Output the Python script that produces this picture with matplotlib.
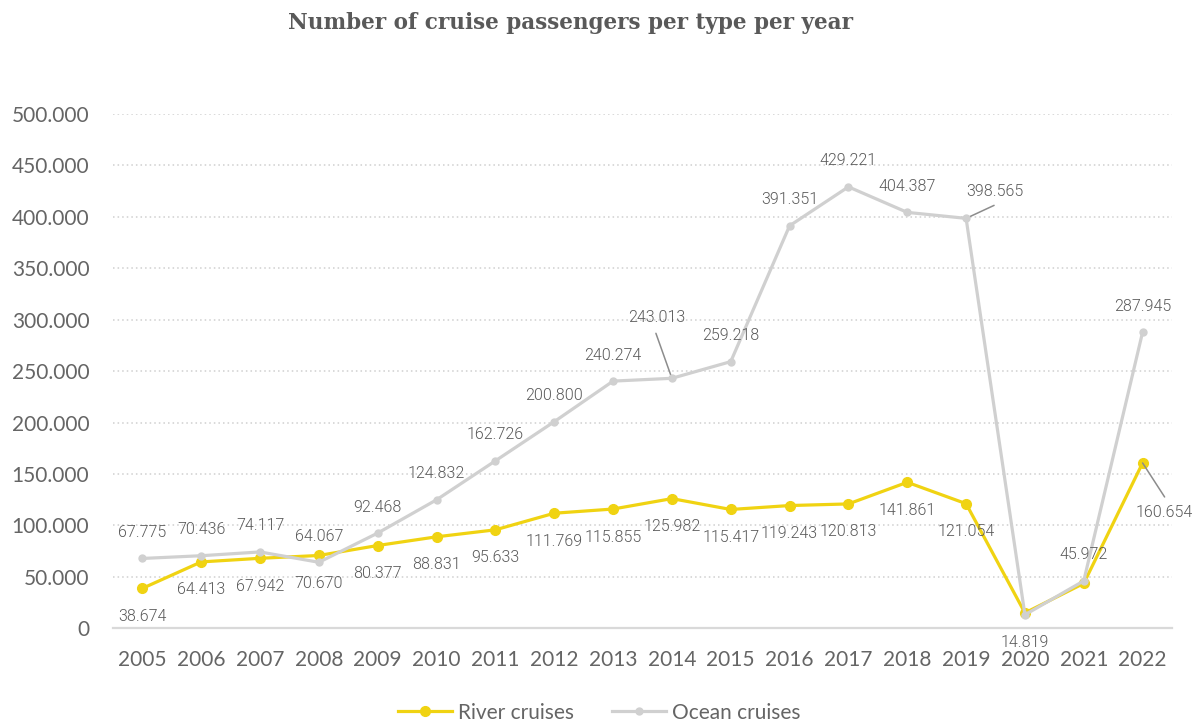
import matplotlib.pyplot as plt
import numpy as np

# data
years = [str(y) for y in range(2005, 2023)]
river = [38674, 64413, 67942, 70670, 80377, 88831, 95633, 111769, 115855,
         125982, 115417, 119243, 120813, 141861, 121054, 14819, 43500, 160654]
ocean = [67775, 70436, 74117, 64067, 92468, 124832, 162726, 200800, 240274,
         243013, 259218, 391351, 429221, 404387, 398565, 13000, 45972, 287945]
y_ticks = [0, 50000, 100000, 150000, 200000, 250000, 300000, 350000, 400000, 450000, 500000]

river_color = '#F0D312'
ocean_color = '#D0D0D0'
text_color = '#595959'
label_font = ['Roboto', 'DejaVu Sans']
tick_font = ['Lato', 'DejaVu Sans']


def fmt(v):
    # dot as thousands separator
    return f"{v:,}".replace(',', '.')


fig = plt.figure(figsize=(11.99, 7.22), dpi=100)
ax = fig.add_axes([0.0942, 0.130, 0.8833, 0.712])

x = np.arange(len(years))
ax.plot(x, river, color=river_color, lw=2.3, marker='o', ms=7, label='River cruises', zorder=3)
ax.plot(x, ocean, color=ocean_color, lw=2.3, marker='o', ms=5, label='Ocean cruises', zorder=4)

ax.set_xlim(-0.5, len(years) - 0.5)
ax.set_ylim(0, 500000)
ax.set_xticks(x)
ax.set_xticklabels(years)
ax.set_yticks(y_ticks)
ax.set_yticklabels([fmt(v) for v in y_ticks])
for lab in ax.get_xticklabels() + ax.get_yticklabels():
    lab.set_fontfamily(tick_font)
    lab.set_fontsize(15)
    lab.set_color('#656565')
ax.tick_params(length=0)
ax.tick_params(axis='x', pad=16)
ax.tick_params(axis='y', pad=17)

for v in y_ticks[1:]:
    ax.axhline(v, color='#D0D0D0', lw=1.1, ls=(0, (1, 2)), zorder=1)
for s in ['top', 'right', 'left']:
    ax.spines[s].set_visible(False)
ax.spines['bottom'].set_color('#D9D9D9')
ax.spines['bottom'].set_linewidth(1.6)

# data labels, offsets in points (px / 1.389)
px = 1 / 1.389
ocean_off = {i: (0, 26) for i in range(len(years))}
ocean_off[9] = (-15, 61)
ocean_off[14] = (29, 27)
river_off = {i: (0, -28) for i in range(len(years))}
river_off[15] = (0, -30)
river_off[17] = (22, -50)
hide_ocean = [15]
hide_river = [16]

for i, v in enumerate(ocean):
    if i in hide_ocean:
        continue
    dx, dy = ocean_off[i]
    ax.annotate(fmt(v), (i, v), xytext=(dx * px, dy * px), textcoords='offset points',
                ha='center', va='center', fontsize=11.5, color=text_color,
                family=label_font, fontweight=300, zorder=6)

# leader lines
ax.annotate('', (9, ocean[9]), xytext=(-16 * px, 45 * px), textcoords='offset points',
            arrowprops=dict(arrowstyle='-', color='#8C8C8C', lw=1.1, shrinkA=0, shrinkB=0))
ax.annotate('', (14, ocean[14]), xytext=(28 * px, 13 * px), textcoords='offset points',
            arrowprops=dict(arrowstyle='-', color='#8C8C8C', lw=1.1, shrinkA=0, shrinkB=0))
ax.annotate('', (17, river[17]), xytext=(22 * px, -34 * px), textcoords='offset points',
            arrowprops=dict(arrowstyle='-', color='#8C8C8C', lw=1.1, shrinkA=0, shrinkB=0))

for i, v in enumerate(river):
    if i in hide_river:
        continue
    dx, dy = river_off[i]
    ax.annotate(fmt(v), (i, v), xytext=(dx * px, dy * px), textcoords='offset points',
                ha='center', va='center', fontsize=11.5, color=text_color,
                family=label_font, fontweight=300, zorder=6)

fig.text(0.476, 0.968, 'Number of cruise passengers per type per year', ha='center', va='center',
         fontsize=15.5, fontweight='bold', family='DejaVu Serif', color=text_color)

leg = fig.legend(loc='center', bbox_to_anchor=(0.5, 0.013), ncol=2, frameon=False,
                 prop={'family': tick_font, 'size': 15},
                 handlelength=2.6, columnspacing=1.8, handletextpad=0.3)
for t in leg.get_texts():
    t.set_color('#656565')

fig.savefig('out.png', dpi=100)
